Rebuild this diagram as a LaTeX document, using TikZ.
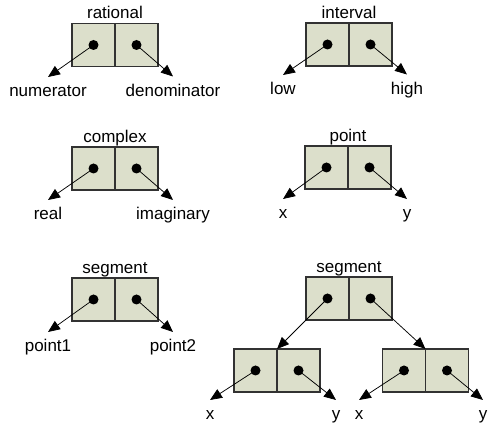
\documentclass[tikz,border=0pt]{standalone}
\usepackage{fontspec}
\setmainfont{Liberation Sans}
\usetikzlibrary{arrows.meta,calc}
\definecolor{cellfill}{RGB}{220,223,203}
\definecolor{cellline}{RGB}{50,50,50}
\tikzset{
  cell/.style={draw=cellline, fill=cellfill, line width=1.1pt, minimum width=43pt, minimum height=43pt, inner sep=0pt, outer sep=0pt, anchor=north west},
  dotnode/.style={circle, fill=black, minimum size=10pt, inner sep=0pt},
  ptr/.style={line width=0.75pt, -{Triangle[length=12pt,width=10pt]}},
  ttl/.style={anchor=base, inner sep=0pt, font=\fontsize{17}{20}\selectfont},
  lbl/.style={anchor=base, inner sep=0pt, font=\fontsize{17}{20}\selectfont}
}
% #1 name, #2 x, #3 y (top-left, px, y down)
\newcommand\consbox[3]{%
  \node[cell] (#1a) at (#2,#3) {};
  \node[cell] (#1b) at (#1a.north east) {};
  \node[dotnode] (#1p) at (#1a.center) {};
  \node[dotnode] (#1q) at (#1b.center) {};
}
\newcommand\boxtitle[2]{%
  \node[ttl] (#1t) at ($(#1a.north east)+(0,-4.5)$) {#2};
}
% #1 name, #2 tip x, #3 tip y, #4 label, #5 source dot
\newcommand\ptrlabel[5]{%
  \coordinate (#1) at (#2,#3);
  \node[lbl] (#1l) at ($(#1)+(0,20)$) {#4};
  \draw[ptr] (#5.center) -- (#1);
}
\begin{document}
\begin{tikzpicture}[x=1pt,y=-1pt]
\useasboundingbox (0,0) rectangle (488,427);
% rational
\consbox{ra}{72}{23.5}
\boxtitle{ra}{rational}
\ptrlabel{ral}{48}{77}{numerator}{rap}
\ptrlabel{rar}{173}{76.5}{denominator}{raq}
% interval
\consbox{iv}{306}{23}
\boxtitle{iv}{interval}
\ptrlabel{ivl}{283}{75}{low}{ivp}
\ptrlabel{ivr}{407}{74.5}{high}{ivq}
% complex
\consbox{co}{72}{147}
\boxtitle{co}{complex}
\ptrlabel{col}{48}{200}{real}{cop}
\ptrlabel{cor}{173}{200}{imaginary}{coq}
% point
\consbox{po}{305}{146}
\boxtitle{po}{point}
\ptrlabel{pol}{283}{199}{x}{pop}
\ptrlabel{por}{407}{199}{y}{poq}
% segment
\consbox{se}{72}{278}
\boxtitle{se}{segment}
\ptrlabel{sel}{48}{332}{point1}{sep}
\ptrlabel{ser}{173}{332}{point2}{seq}
% segment of points
\consbox{sg}{306}{277}
\boxtitle{sg}{segment}
\consbox{pa}{234}{349}
\consbox{pb}{382.5}{349}
\draw[ptr] (sgp.center) -- (pab.north west);
\draw[ptr] (sgq.center) -- (pbb.north west);
\ptrlabel{pal}{210}{400}{x}{pap}
\ptrlabel{par}{336}{400}{y}{paq}
\ptrlabel{pbl}{359}{400}{x}{pbp}
\ptrlabel{pbr}{483}{400}{y}{pbq}
\end{tikzpicture}
\end{document}
